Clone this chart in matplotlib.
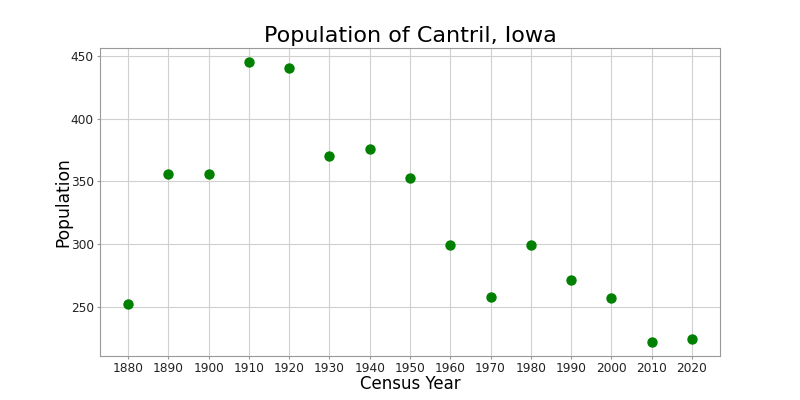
import matplotlib
matplotlib.use("Agg")
import matplotlib.pyplot as plt

years = [1880, 1890, 1900, 1910, 1920, 1930, 1940, 1950, 1960, 1970, 1980, 1990, 2000, 2010, 2020]
population = [252, 356, 356, 445, 440, 370, 376, 353, 299, 258, 299, 271, 257, 222, 224]

fig = plt.figure(figsize=(8, 4), dpi=100)
ax = fig.add_axes([0.125, 0.11, 0.775, 0.77])
ax.scatter(years, population, color="green", s=42, zorder=3)
ax.set_xticks(years)
ax.grid(True, color="#d0d0d0", linewidth=0.8)
ax.set_axisbelow(True)
for s in ax.spines.values():
    s.set_color("#999999")
ax.set_title("Population of Cantril, Iowa", fontsize=16, pad=4)
ax.set_xlabel("Census Year", fontsize=12, labelpad=0)
ax.set_ylabel("Population", fontsize=12.3, labelpad=-1)
ax.tick_params(labelsize=8.7, colors="#222222", length=2.5, pad=2)
ax.tick_params(axis="both", color="#999999")
fig.savefig("out.png")
